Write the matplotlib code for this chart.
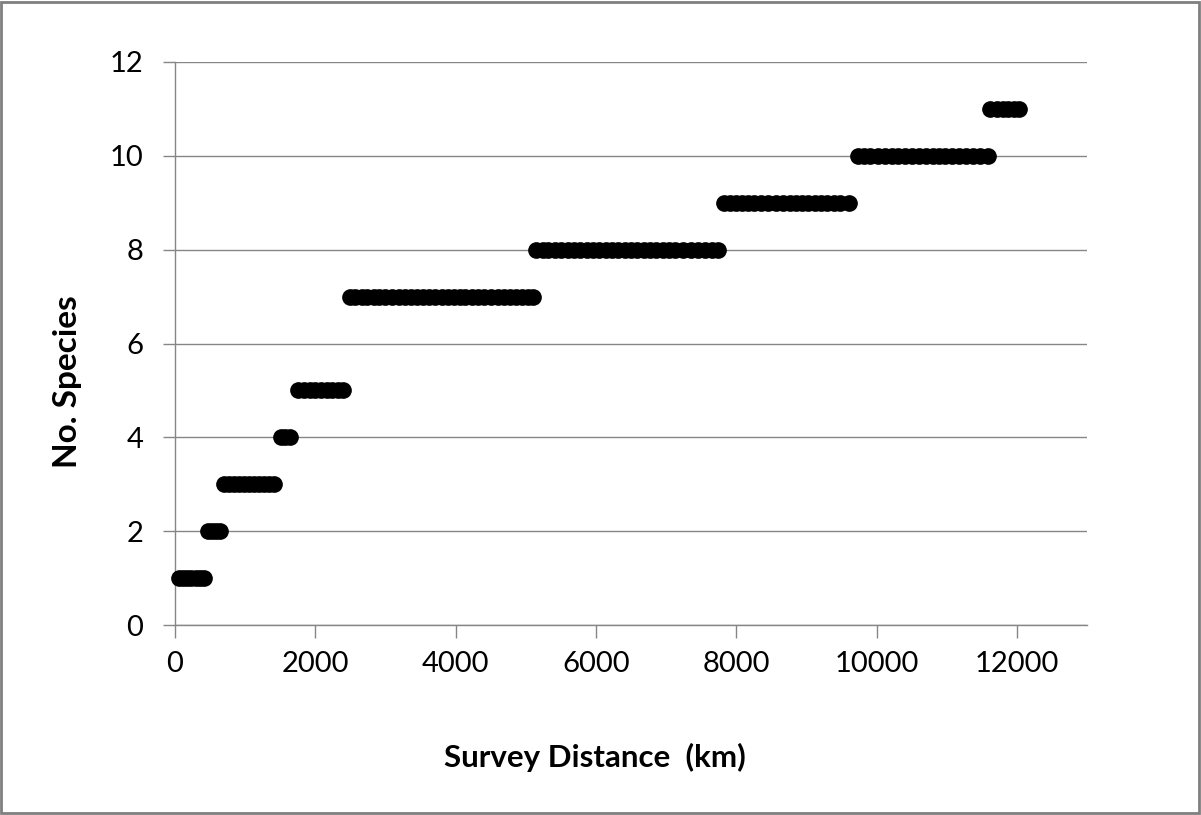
import matplotlib
matplotlib.use("Agg")
import matplotlib.pyplot as plt
from matplotlib.patches import Rectangle

# survey distance (km) at which each cumulative species count was recorded
dist_1 = [57, 110, 170, 235, 300, 360, 414]
dist_2 = [470, 530, 590, 640]
dist_3 = [695, 770, 840, 910, 990, 1060, 1130, 1200, 1270, 1340, 1410]
dist_4 = [1510, 1570, 1640]
dist_5 = [1760, 1840, 1920, 2000, 2080, 2160, 2240, 2320, 2390]
dist_7 = [2490, 2570, 2660, 2740, 2830, 2910, 3000, 3090, 3200, 3280, 3370,
          3450, 3540, 3620, 3710, 3800, 3890, 3970, 4060, 4140, 4230, 4320,
          4410, 4500, 4600, 4690, 4780, 4860, 4950, 5030, 5110]
dist_8 = [5150, 5240, 5320, 5410, 5500, 5600, 5690, 5780, 5870, 5960, 6050,
          6140, 6230, 6320, 6410, 6500, 6590, 6680, 6770, 6860, 6950, 7040,
          7130, 7240, 7350, 7460, 7560, 7650, 7740]
dist_9 = [7830, 7910, 8000, 8080, 8170, 8260, 8360, 8450, 8560, 8660, 8760,
          8850, 8940, 9030, 9120, 9210, 9300, 9390, 9480, 9610]
dist_10 = [9730, 9820, 9910, 10020, 10120, 10220, 10310, 10400, 10500, 10600,
           10700, 10800, 10890, 10980, 11080, 11180, 11280, 11380, 11480, 11590]
dist_11 = [11620, 11710, 11800, 11880, 11960, 12030]

groups = [(1, dist_1), (2, dist_2), (3, dist_3), (4, dist_4), (5, dist_5),
          (7, dist_7), (8, dist_8), (9, dist_9), (10, dist_10), (11, dist_11)]

xs = []
ys = []
for n, d in groups:
    xs += d
    ys += [n] * len(d)

plt.rcParams['font.family'] = ['Lato', 'DejaVu Sans']

fig = plt.figure(figsize=(12.01, 8.15), dpi=100)
ax = fig.add_axes([175 / 1201, 1 - 625 / 815, (1087 - 175) / 1201, (625 - 62) / 815])

grid_c = '#868686'
ax.plot(xs, ys, 'o', color='black', markersize=11, zorder=3, clip_on=False)

ax.set_xlim(0, 13000)
ax.set_ylim(0, 12)
ax.set_xticks(range(0, 12001, 2000))
ax.set_yticks(range(0, 13, 2))
ax.yaxis.grid(True, color=grid_c, linewidth=1)
ax.set_axisbelow(True)

for s in ['top', 'right']:
    ax.spines[s].set_visible(False)
for s in ['left', 'bottom']:
    ax.spines[s].set_color(grid_c)
    ax.spines[s].set_linewidth(1)

ax.tick_params(axis='both', direction='out', length=9, width=1, color=grid_c,
               labelsize=21, labelcolor='black')
ax.tick_params(axis='x', pad=10)
ax.tick_params(axis='y', pad=14)

fig.text(595 / 1201, 1 - 757 / 815, 'Survey Distance  (km)', fontsize=22.5,
         fontweight='bold', ha='center', va='center')
fig.text(67 / 1201, 1 - 382 / 815, 'No. Species', fontsize=24,
         fontweight='bold', ha='center', va='center', rotation=90)

# chart border
fig.patches.append(Rectangle((0.001, 0.002), 0.997, 0.996, transform=fig.transFigure,
                             fill=False, edgecolor='#7f7f7f', linewidth=2))

fig.savefig('out.png', dpi=100, facecolor='white')
